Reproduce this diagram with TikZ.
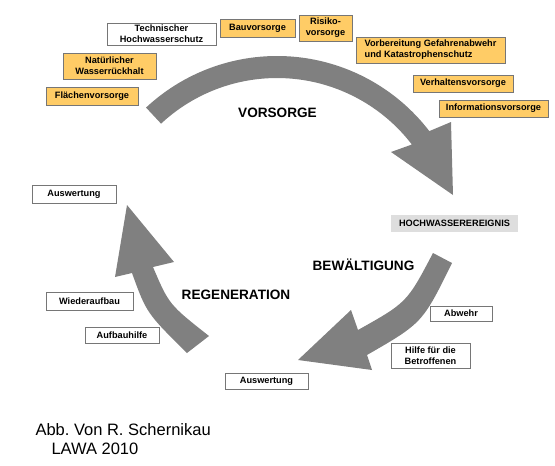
\documentclass[tikz,border=0pt]{standalone}
\usepackage{fontspec}
\setmainfont{Liberation Sans}
\usetikzlibrary{calc}
\definecolor{arrowgray}{RGB}{128,128,128}
\definecolor{boxorange}{RGB}{255,204,102}
\definecolor{boxline}{RGB}{118,118,118}
\definecolor{eventgray}{RGB}{222,222,222}
\frenchspacing

\begin{document}
\begin{tikzpicture}[x=1pt,y=-1pt,
    box/.style={draw=boxline,line width=0.8pt,inner sep=0pt,align=center,font=\fontsize{9.2}{11}\selectfont\bfseries},
    obox/.style={box,fill=boxorange},
    wbox/.style={box,fill=white},
    phase/.style={anchor=base,font=\fontsize{13.6}{16}\selectfont\bfseries},
    caption/.style={anchor=base west,font=\fontsize{16.5}{19}\selectfont}]
        \useasboundingbox (0,0) rectangle (555,466);
        % the three arrows of the cycle
        \coordinate (c) at (277,248);
        \fill[arrowgray] ($(c)+(-133:192)$) arc[start angle=-133,end angle=-37.5,radius=192] -- (451,122) -- (453,195) -- (391,152) -- ($(c)+(-37.5:170)$) arc[start angle=-37.5,end angle=-133,radius=170] -- cycle;
        \fill[arrowgray] (433,253) -- (452,263) .. controls (422.5,323) .. (367,355) -- (372,370) -- (298,360) -- (351,310) -- (358,330) .. controls (407,302.5) .. (433,253) -- cycle;
        \fill[arrowgray] (187,353) .. controls (146.5,313) .. (132,273) -- (115,277) -- (127,205) -- (174,262) -- (153,267) .. controls (169,304.5) .. (209,336) -- cycle;
        % phases
        \node[phase] at (277.5,117) (vorsorge) {VORSORGE};
        \node[phase] at (363.5,270) (bewaeltigung) {BEWÄLTIGUNG};
        \node[phase] at (236,299) (regeneration) {REGENERATION};
        % Vorsorge
        \node[wbox,minimum width=109,minimum height=22] at (161.5,34) (technisch) {Technischer\\Hochwasserschutz};
        \node[obox,minimum width=75,minimum height=18] at (257.5,28) (bau) {Bauvorsorge};
        \node[obox,minimum width=53,minimum height=26] at (325.5,28) (risiko) {Risiko-\\vorsorge};
        \node[obox,minimum width=149,minimum height=26,align=left] at (430.5,50) (vorbereitung) {Vorbereitung Gefahrenabwehr\\und Katastrophenschutz};
        \node[obox,minimum width=100,minimum height=17] at (463,83.5) (verhalten) {Verhaltensvorsorge};
        \node[obox,minimum width=109,minimum height=17] at (493.5,108.5) (information) {Informationsvorsorge};
        \node[obox,minimum width=93,minimum height=26] at (109.5,66) (natuerlich) {Natürlicher\\Wasserrückhalt};
        \node[obox,minimum width=92,minimum height=18] at (92,96) (flaeche) {Flächenvorsorge};
        % Ereignis und Bewältigung
        \node[box,draw=none,fill=eventgray,minimum width=127,minimum height=17] at (454.5,223.5) (ereignis) {HOCHWASSEREREIGNIS};
        \node[wbox,minimum width=62,minimum height=15] at (461,313.5) (abwehr) {Abwehr};
        \node[wbox,minimum width=79,minimum height=25] at (430.5,355.5) (hilfe) {Hilfe für die\\Betroffenen};
        \node[wbox,minimum width=83,minimum height=16] at (266.5,381) (auswertungB) {Auswertung};
        % Regeneration
        \node[wbox,minimum width=74,minimum height=16] at (122,335) (aufbauhilfe) {Aufbauhilfe};
        \node[wbox,minimum width=87,minimum height=18] at (89.5,301) (wiederaufbau) {Wiederaufbau};
        \node[wbox,minimum width=84,minimum height=18] at (74,194) (auswertungR) {Auswertung};
        % source
        \node[caption] at (32,435) (abb) {Abb. Von R. Schernikau};
        \node[caption] at (48,454) (lawa) {LAWA 2010};
\end{tikzpicture}
\end{document}
